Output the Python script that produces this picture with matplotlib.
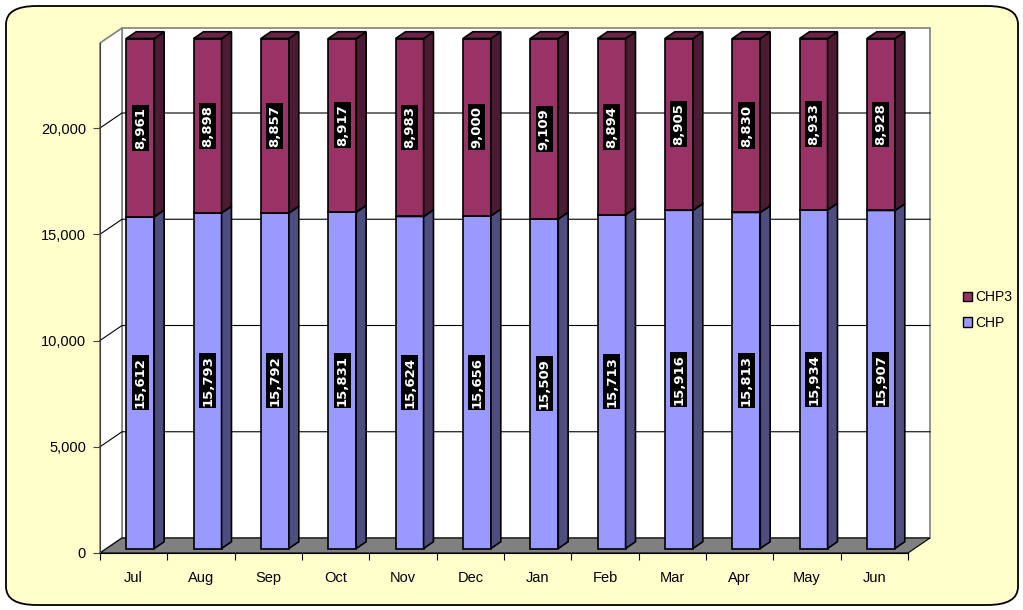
import numpy as np
import matplotlib
matplotlib.use("Agg")
import matplotlib.pyplot as plt
from matplotlib.patches import Polygon, FancyBboxPatch

# donnees
mois = ["Jul", "Aug", "Sep", "Oct", "Nov", "Dec", "Jan", "Feb", "Mar", "Apr", "May", "Jun"]
chp = [15612, 15793, 15792, 15831, 15624, 15656, 15509, 15713, 15916, 15813, 15934, 15907]
chp3 = [8961, 8898, 8857, 8917, 8983, 9000, 9109, 8894, 8905, 8830, 8933, 8928]
y_ticks = [0, 5000, 10000, 15000, 20000]
y_max = 24000

W, H = 1023, 610
fig = plt.figure(figsize=(W / 100, H / 100), dpi=100)
fig.patch.set_facecolor("white")

# cadre arrondi jaune
cadre = FancyBboxPatch((6 / W, 5 / H), 1012 / W, 599 / H,
                       boxstyle="round,pad=0,rounding_size=0.03",
                       transform=fig.transFigure, facecolor="#FFFFCC",
                       edgecolor="black", linewidth=1.3, zorder=-10)
fig.patches.append(cadre)

# axes = plan avant
x0, x1 = 100, 908
y0, y1 = 553, 43
ax = fig.add_axes([x0 / W, (H - y0) / H, (x1 - x0) / W, (y0 - y1) / H])
ax.set_xlim(0, len(mois))
ax.set_ylim(0, y_max)
ax.patch.set_alpha(0)
for s in ["top", "right"]:
    ax.spines[s].set_visible(False)
ax.spines["left"].set_color("#404040")
ax.spines["bottom"].set_color("black")

# profondeur (en unites de donnees)
px_x = (x1 - x0) / len(mois)
px_y = (y0 - y1) / y_max
xd = 22 / px_x
yd = 15 / px_y


def p(x, y, t):
    return (x + t * xd, y + t * yd)


# murs
mur_fond = Polygon([p(0, 0, 1), p(12, 0, 1), p(12, y_max, 1), p(0, y_max, 1)],
                   closed=True, facecolor="white", edgecolor="#808080", lw=1.2,
                   clip_on=False, zorder=0)
ax.add_patch(mur_fond)
mur_gauche = Polygon([p(0, 0, 0), p(0, 0, 1), p(0, y_max, 1), p(0, y_max, 0)],
                     closed=True, facecolor="white", edgecolor="#808080", lw=1.2,
                     clip_on=False, zorder=0)
ax.add_patch(mur_gauche)
sol = Polygon([p(0, 0, 0), p(12, 0, 0), p(12, 0, 1), p(0, 0, 1)],
              closed=True, facecolor="#808080", edgecolor="black", lw=0.8,
              clip_on=False, zorder=1)
ax.add_patch(sol)

# grille
for v in y_ticks[1:]:
    pts = [p(0, v, 0), p(0, v, 1), p(12, v, 1)]
    ax.plot([q[0] for q in pts], [q[1] for q in pts], color="black", lw=0.8,
            clip_on=False, zorder=1)

# barres
t0, t1 = 0.3, 0.75
larg = 0.415
xs = np.arange(len(mois)) + 0.5
series = [(chp, "#9999FF", "#4D4D80", "CHP"), (chp3, "#993366", "#4D1A33", "CHP3")]
bas = np.zeros(len(mois))
for vals, c_face, c_cote, nom in series:
    vals = np.array(vals, dtype=float)
    haut = np.minimum(bas + vals, y_max)
    h_vis = haut - bas
    xf = xs + t0 * xd
    ax.bar(xf, h_vis, larg, bottom=bas + t0 * yd, color=c_face, edgecolor="black",
           linewidth=1.2, clip_on=False, zorder=3, label=nom)
    for i in range(len(mois)):
        xl = xs[i] - 0.5 * larg
        xr = xs[i] + 0.5 * larg
        cote = Polygon([p(xr, bas[i], t0), p(xr, bas[i], t1), p(xr, haut[i], t1), p(xr, haut[i], t0)],
                       closed=True, facecolor=c_cote, edgecolor="black", lw=1.2,
                       clip_on=False, zorder=3)
        ax.add_patch(cote)
        dessus = Polygon([p(xl, haut[i], t0), p(xr, haut[i], t0), p(xr, haut[i], t1), p(xl, haut[i], t1)],
                         closed=True, facecolor="#6B2447" if nom == "CHP3" else "#7373BF",
                         edgecolor="black", lw=1.2, clip_on=False, zorder=3)
        ax.add_patch(dessus)
        ax.text(xf[i], bas[i] + h_vis[i] / 2 + t0 * yd, f"{int(vals[i]):,}", rotation=90,
                ha="center", va="center", color="white", fontsize=9.5, fontweight="bold",
                family="DejaVu Sans",
                bbox=dict(boxstyle="square,pad=0.15", facecolor="black", edgecolor="none"),
                zorder=5, clip_on=False)
    bas = bas + vals

# axes et ticks
ax.set_yticks(y_ticks)
ax.set_yticklabels([f"{v:,}" for v in y_ticks], family="Liberation Sans", fontsize=10.5)
ax.set_xticks(np.arange(len(mois) + 1))
ax.set_xticklabels([])
ax.set_xticks(xs, minor=True)
ax.set_xticklabels(mois, minor=True, family="Liberation Sans", fontsize=10.5)
ax.tick_params(axis="x", which="minor", length=0, pad=13)
ax.tick_params(axis="x", which="major", length=5, direction="out", color="black")
ax.tick_params(axis="y", length=5, direction="out", color="#404040", pad=5)

# legende
h, l = ax.get_legend_handles_labels()
leg = fig.legend(h[::-1], l[::-1], loc="center left", bbox_to_anchor=(950 / W, 1 - 310 / H),
                 frameon=False, prop={"family": "Liberation Sans", "size": 10},
                 handlelength=0.65, handleheight=0.65, handletextpad=0.25, labelspacing=0.85)
for hh in leg.legend_handles:
    hh.set_edgecolor("black")
    hh.set_linewidth(1.0)

fig.savefig("out.png", dpi=100)
